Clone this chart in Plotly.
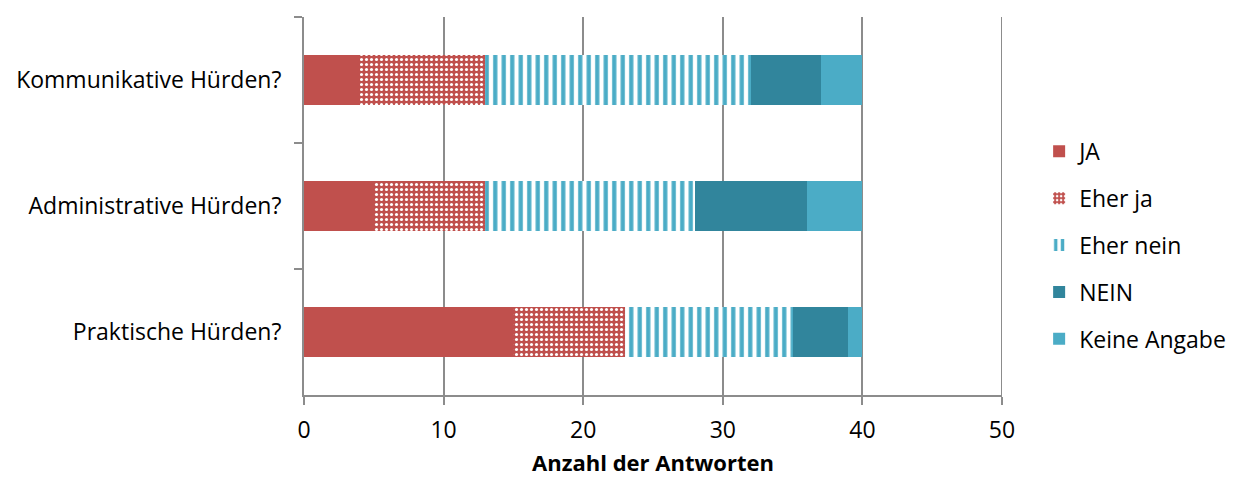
import plotly.graph_objects as go

categories = ["Kommunikative Hürden?", "Administrative Hürden?", "Praktische Hürden?"]
series_names = ["JA", "Eher ja", "Eher nein", "NEIN", "Keine Angabe"]
ja = [4, 5, 15]
eher_ja = [9, 8, 8]
eher_nein = [19, 15, 12]
nein = [5, 8, 4]
keine_angabe = [3, 4, 1]
x_ticks = [0, 10, 20, 30, 40, 50]

values = [ja, eher_ja, eher_nein, nein, keine_angabe]
colors = ["#C0504D", "#C0504D", "#4BACC6", "#31859C", "#4BACC6"]
patterns = [
    dict(shape=""),
    dict(shape=".", bgcolor="#C0504D", fgcolor="#FFFFFF", fgopacity=1, size=5, solidity=0.3),
    dict(shape="|", bgcolor="#FFFFFF", fgcolor="#4BACC6", fgopacity=1, size=8.5, solidity=0.5),
    dict(shape=""),
    dict(shape=""),
]

FONT = "'Open Sans', sans-serif"
GREY = "#8C8C8C"

fig = go.Figure()
for i, (name, vals) in enumerate(zip(series_names, values)):
    fig.add_trace(go.Bar(
        y=categories, x=vals, name=name, orientation="h",
        marker=dict(color=colors[i], pattern=patterns[i], line=dict(width=0)),
        legendgroup=name,
    ))

fig.update_layout(
    barmode="stack",
    bargap=0.6,
    width=1229, height=469,
    margin=dict(l=296, r=235, t=9, b=82, autoexpand=False),
    plot_bgcolor="white", paper_bgcolor="white",
    font=dict(family=FONT, size=23, color="#000000"),
    legend=dict(xref="container", yref="container", x=0.839, y=0.494,
                yanchor="middle", xanchor="left",
                traceorder="grouped", tracegroupgap=14,
                font=dict(size=23), itemwidth=30),
    xaxis=dict(range=[0, 50], tickvals=x_ticks, showgrid=True, gridcolor=GREY,
               gridwidth=2, showline=True, linecolor=GREY, linewidth=2,
               ticks="outside", ticklen=8, tickcolor=GREY, tickwidth=2,
               zeroline=False, ticklabelstandoff=5, automargin=False,
               title=dict(text="<b>Anzahl der Antworten</b>", font=dict(size=22), standoff=16)),
    yaxis=dict(autorange="reversed", showline=True, linecolor=GREY, linewidth=2,
               ticks="outside", ticklen=8, tickcolor=GREY, tickwidth=2, automargin=False,
               tickson="boundaries", showgrid=False, ticklabelstandoff=16),
)
fig.add_shape(type="line", xref="x", yref="paper", x0=50, x1=50, y0=0, y1=1,
              line=dict(color=GREY, width=2))

fig.write_html("out.html")
